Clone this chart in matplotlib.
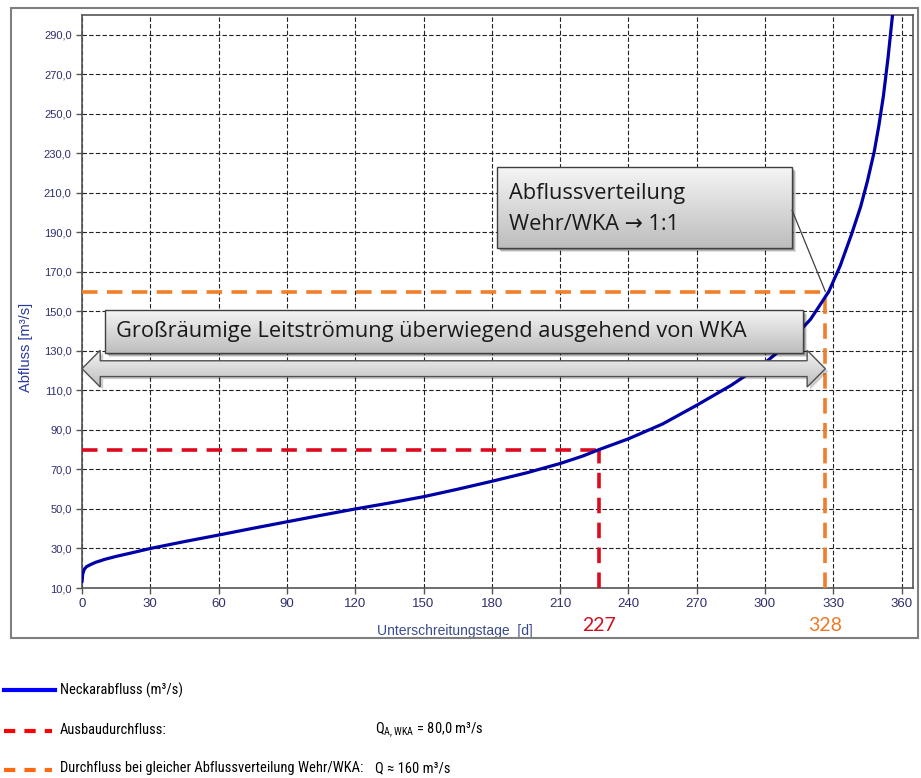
import numpy as np
import matplotlib
matplotlib.use("Agg")
import matplotlib.pyplot as plt
from matplotlib.patches import Rectangle, Polygon, ConnectionPatch
from matplotlib.lines import Line2D
from matplotlib import font_manager

# Dauerlinie Neckarabfluss
tage = [0, 0.3, 1, 2, 4, 6, 10, 15, 20, 30, 45, 60, 75, 90, 105, 120, 135, 150, 165,
        180, 195, 210, 220, 227, 240, 255, 270, 285, 300, 310, 320, 328, 333, 338,
        342, 345, 348, 350, 352, 354, 356]
abfluss = [13, 17, 19.5, 20.8, 22, 23, 24.5, 26, 27.3, 30, 33.5, 36.8, 40.2, 43.5, 46.8,
           50, 53, 56.2, 60, 64, 68.2, 73, 76.8, 80, 85.5, 93, 102.5, 112.5, 124, 133.5,
           146, 160, 173, 189, 203, 216, 231, 244, 259, 278, 300]

q_ausbau = 80.0
tag_ausbau = 227
q_gleich = 160.0
tag_gleich = 328
tag_gleich_linie = 326.5

x_ticks = list(range(0, 361, 30))
y_ticks = list(range(10, 291, 20))

W, H = 921, 778
fig = plt.figure(figsize=(W / 100, H / 100), dpi=100)


def fx(x):
    return x / W


def fy(y):
    return 1 - y / H


# aeusserer Rahmen
fig.patches.append(Rectangle((fx(11), fy(638)), fx(918) - fx(11), fy(8) - fy(638),
                             transform=fig.transFigure, fill=False,
                             edgecolor="#7f7f7f", lw=1.5))

ax = fig.add_axes([fx(82), fy(588), fx(913) - fx(82), fy(15) - fy(588)])
ax.set_xlim(0, 365)
ax.set_ylim(10, 300)
ax.set_xticks(x_ticks)
ax.set_yticks(y_ticks)
ax.set_yticklabels([f"{v:.1f}".replace(".", ",") for v in y_ticks])
ax.tick_params(direction="out", length=4, width=1, color="#555555",
               labelcolor="#2e2e6e", labelsize=8)
ax.tick_params(axis="x", labelsize=9.5, pad=3)
for lab in ax.get_xticklabels() + ax.get_yticklabels():
    lab.set_fontfamily("Liberation Sans")
for s in ax.spines.values():
    s.set_color("#555555")
    s.set_linewidth(1.2)
ax.grid(True, color="#222222", lw=0.8, linestyle=(0, (4, 2)))
ax.set_axisbelow(True)

ax.set_xlabel("Unterschreitungstage  [d]", family="Liberation Sans", fontsize=10,
              color="#3a4a8a")
ax.xaxis.set_label_coords(0.449, -0.063)
ax.set_ylabel("Abfluss [m³/s]", family="Liberation Sans", fontsize=10.5, color="#2a3a9a")
ax.yaxis.set_label_coords(-0.059, 0.419)

# Bezugslinien
rot = "#dd0a1e"
orange = "#f07f2a"
ax.plot([0, tag_ausbau], [q_ausbau, q_ausbau], color=rot, lw=2.6, dashes=(4.3, 2.6), zorder=3)
ax.plot([tag_ausbau, tag_ausbau], [10, q_ausbau], color=rot, lw=2.6, dashes=(4.3, 2.6), zorder=3)
ax.plot([0, tag_gleich_linie], [q_gleich, q_gleich], color=orange, lw=2.6, dashes=(4.3, 2.6), zorder=3)
ax.plot([tag_gleich_linie, tag_gleich_linie], [10, q_gleich], color=orange, lw=2.6,
        dashes=(4.3, 2.6), zorder=3)

# Dauerlinie
ax.plot(tage, abfluss, color="#0000a8", lw=2.3, zorder=4, solid_capstyle="round",
        solid_joinstyle="round")

ax.text(tag_ausbau, -0.065, str(tag_ausbau), transform=ax.get_xaxis_transform(),
        ha="center", va="center", color="#d0101e", fontsize=14, family="Lato")
ax.text(tag_gleich_linie, -0.065, str(tag_gleich), transform=ax.get_xaxis_transform(),
        ha="center", va="center", color="#ee7a2a", fontsize=14, family="Lato")

grad = np.linspace(0, 1, 100).reshape(-1, 1)
cmap = matplotlib.colors.LinearSegmentedColormap.from_list("g", ["#f5f5f5", "#bdbdbd"])


def gradient_patch(patch, ext, transform, z):
    ax.add_patch(patch)
    im = ax.imshow(grad, cmap=cmap, aspect="auto", extent=ext, transform=transform,
                   zorder=z, interpolation="bicubic")
    im.set_clip_path(patch)


def box(x0, y0, x1, y1, z):
    for off, a in [(4, 0.12), (3, 0.18), (2, 0.22)]:
        sh = Rectangle((fx(x0 + off), fy(y1 + off)), fx(x1) - fx(x0), fy(y0) - fy(y1),
                       transform=fig.transFigure, facecolor="#000000", alpha=a,
                       edgecolor="none", zorder=z - 0.5)
        ax.add_patch(sh)
    r = Rectangle((fx(x0), fy(y1)), fx(x1) - fx(x0), fy(y0) - fy(y1),
                  transform=fig.transFigure, facecolor="none", edgecolor="#404040",
                  lw=1.0, zorder=z + 0.2)
    gradient_patch(Rectangle((fx(x0), fy(y1)), fx(x1) - fx(x0), fy(y0) - fy(y1),
                             transform=fig.transFigure, facecolor="none", edgecolor="none",
                             zorder=z),
                   [fx(x0), fx(x1), fy(y1), fy(y0)], fig.transFigure, z)
    ax.add_patch(r)


# Doppelpfeil (Leitstroemung)
pm, sh_h, hd_h, hd_l = 121.0, 4.0, 9.3, 8.0
pts = [(0, pm), (hd_l, pm + hd_h), (hd_l, pm + sh_h), (tag_gleich_linie - hd_l, pm + sh_h),
       (tag_gleich_linie - hd_l, pm + hd_h), (tag_gleich_linie, pm),
       (tag_gleich_linie - hd_l, pm - hd_h), (tag_gleich_linie - hd_l, pm - sh_h),
       (hd_l, pm - sh_h), (hd_l, pm - hd_h)]
shadow = Polygon([(x + 1.3, y - 1.3) for x, y in pts], closed=True, facecolor="black",
                 alpha=0.2, edgecolor="none", zorder=5.5)
ax.add_patch(shadow)
gradient_patch(Polygon(pts, closed=True, facecolor="none", edgecolor="none", zorder=6),
               [0, tag_gleich_linie, pm - hd_h, pm + hd_h], ax.transData, 6)
ax.add_patch(Polygon(pts, closed=True, facecolor="none", edgecolor="#505050", lw=1.0,
                     zorder=6.2))

box_font = ["Open Sans", "DejaVu Sans"]
box(105, 310, 803, 353, 7)
fig.text(fx(116), fy(332), "Großräumige Leitströmung überwiegend ausgehend von WKA",
         family=box_font, fontsize=15.7, color="#1a1a1a", va="center",
         ha="left", zorder=10)

box(497, 167, 792, 248, 7)
fig.text(fx(509), fy(194), "Abflussverteilung", family=box_font,
         fontsize=15.7, color="#1a1a1a", va="center", ha="left", zorder=10)
fig.text(fx(509), fy(225), "Wehr/WKA \u2192 1:1", family=box_font,
         fontsize=15.7, color="#1a1a1a", va="center", ha="left", zorder=10)
con = ConnectionPatch(xyA=(fx(792), fy(210)), coordsA=fig.transFigure,
                      xyB=(tag_gleich_linie, q_gleich), coordsB=ax.transData,
                      color="#404040", lw=0.9, zorder=8)
fig.add_artist(con)

ax.set_xlim(0, 365)
ax.set_ylim(10, 300)

# Legende unter dem Diagramm: schmale Schrift suchen
leg_family, leg_stretch = "DejaVu Sans", "condensed"
for fam, st in [("Roboto Condensed", "condensed"), ("Roboto Condensed", "normal"),
                ("Noto Sans", "extra-condensed"), ("Noto Sans", "condensed"),
                ("Open Sans", "condensed")]:
    try:
        f = font_manager.findfont(font_manager.FontProperties(family=fam, stretch=st),
                                  fallback_to_default=False)
        if "ondensed" in f:
            leg_family, leg_stretch = fam, st
            break
    except Exception:
        pass

plt.rcParams["mathtext.fontset"] = "custom"
plt.rcParams["mathtext.rm"] = leg_family
fig.add_artist(Line2D([fx(4), fx(55)], [fy(690), fy(690)], color="#0000ff", lw=3,
                      transform=fig.transFigure))
fig.add_artist(Line2D([fx(4), fx(52)], [fy(731), fy(731)], color="#ff0000", lw=3,
                      dashes=(2.7, 2.2), transform=fig.transFigure))
fig.add_artist(Line2D([fx(4), fx(52)], [fy(770), fy(770)], color="#ff6a10", lw=3,
                      dashes=(2.7, 2.2), transform=fig.transFigure))

leg_texts = []
leg_texts.append(fig.text(fx(60), fy(690), "Neckarabfluss (m³/s)", va="center", ha="left"))
leg_texts.append(fig.text(fx(60), fy(730), "Ausbaudurchfluss:", va="center", ha="left"))
lang = fig.text(fx(60), fy(768), "Durchfluss bei gleicher Abflussverteilung Wehr/WKA:",
                va="center", ha="left")
leg_texts.append(lang)
leg_texts.append(fig.text(fx(375), fy(730), r"Q$_{\mathregular{A,WKA}}$ = 80,0 m³/s",
                          va="center", ha="left"))
leg_texts.append(fig.text(fx(375), fy(768), "Q ≈ 160 m³/s", va="center", ha="left"))
for t in leg_texts:
    t.set_family(leg_family)
    t.set_stretch(leg_stretch)
    t.set_size(11)
    t.set_color("black")

# Schriftgroesse so waehlen, dass die lange Zeile ~302 px breit ist
r = fig.canvas.get_renderer()
breite = lang.get_window_extent(r).width
groesse = min(14, 11 * 302 / breite)
for t in leg_texts:
    t.set_size(groesse)

fig.savefig("out.png", dpi=100)
